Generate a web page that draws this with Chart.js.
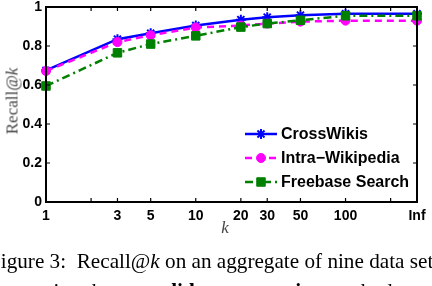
<!DOCTYPE html>
<html>
<head>
<meta charset="utf-8">
<script src="https://cdn.jsdelivr.net/npm/chart.js@4.4.1/dist/chart.umd.min.js"></script>
<style>
  body { margin: 0; background: #fff; width: 432px; height: 286px; overflow: hidden; position: relative; }
  #recallChart { position: absolute; left: 0; top: 0; }
  .axis-title { position: absolute; font-family: 'Liberation Serif', serif; color: #000; white-space: nowrap; line-height: 1; }
  #yTitle { left: 12px; top: 101px; font-size: 17px; transform: translate(-50%, -50%) rotate(-90deg); color: #444; }
  #xTitle { left: 225px; top: 227px; font-size: 17px; transform: translate(-50%, -50%); font-style: italic; color: #444; }
  .caption { position: absolute; font-family: 'Liberation Serif', serif; font-size: 21.2px; line-height: 24px; white-space: nowrap; color: #000; }
</style>
</head>
<body>
<canvas id="recallChart" width="432" height="286"></canvas>
<div class="axis-title" id="yTitle">Recall@<i>k</i></div>
<div class="axis-title" id="xTitle">k</div>
<div class="caption" style="left:-11px; top:249px;">Figure 3:&nbsp; Recall@<i>k</i> on an aggregate of nine data sets</div>
<div class="caption" style="left:-10px; top:279px;">comparing three <b>candidate generation</b> methods.</div>
<script>
// k values (Inf is placed at 300 on the log axis)
const kPositions = [1, 3, 5, 10, 20, 30, 50, 100, 300];
const kLabels = ['1', '3', '5', '10', '20', '30', '50', '100', 'Inf'];
const xTickValues = [1, 2, 3, 5, 10, 20, 30, 50, 100, 200, 300];
const yTickValues = [0, 0.2, 0.4, 0.6, 0.8, 1];

const seriesNames = ['CrossWikis', 'Intra\u2212Wikipedia', 'Freebase Search'];
const crossWikis = [0.675, 0.835, 0.865, 0.905, 0.935, 0.948, 0.958, 0.965, 0.965];
const intraWikipedia = [0.672, 0.82, 0.855, 0.895, 0.905, 0.915, 0.925, 0.93, 0.93];
const freebaseSearch = [0.595, 0.765, 0.81, 0.852, 0.897, 0.915, 0.932, 0.955, 0.955];

const canvas = document.querySelector('#recallChart');
const tickFont = { family: "'Liberation Sans', Arial, sans-serif", weight: 'bold', size: 14 };

const toPoints = (values) => values.map((v, i) => ({ x: kPositions[i], y: v }));

const labelForTick = (value) => {
  const i = kPositions.indexOf(value);
  return i === -1 ? '' : kLabels[i];
}

// MATLAB style box with inward ticks on all four sides
const boxAndTicks = {
  id: 'boxAndTicks',
  afterDatasetsDraw(chart) {
    const { ctx, chartArea: a, scales: { x, y } } = chart;
    ctx.save();
    ctx.strokeStyle = '#000';
    ctx.lineWidth = 1.2;
    ctx.beginPath();
    xTickValues.forEach(v => {
      const px = x.getPixelForValue(v);
      ctx.moveTo(px, a.bottom); ctx.lineTo(px, a.bottom - 4);
      ctx.moveTo(px, a.top); ctx.lineTo(px, a.top + 4);
    });
    yTickValues.forEach(v => {
      const py = y.getPixelForValue(v);
      ctx.moveTo(a.left, py); ctx.lineTo(a.left + 4, py);
      ctx.moveTo(a.right, py); ctx.lineTo(a.right - 4, py);
    });
    ctx.stroke();
    ctx.lineWidth = 2;
    ctx.strokeRect(a.left, a.top, a.width, a.height);
    ctx.restore();
  }
};

// legend in the lower right of the plot
const insideLegend = {
  id: 'insideLegend',
  afterDraw(chart) {
    const { ctx } = chart;
    const rowY = [134, 158, 182];
    chart.data.datasets.forEach((ds, i) => {
      const yy = rowY[i];
      ctx.save();
      ctx.strokeStyle = ds.borderColor;
      ctx.lineWidth = ds.borderWidth;
      ctx.setLineDash(ds.borderDash || []);
      ctx.beginPath();
      ctx.moveTo(245, yy);
      ctx.lineTo(277, yy);
      ctx.stroke();
      ctx.setLineDash([]);
      ctx.fillStyle = ds.pointBackgroundColor;
      ctx.strokeStyle = ds.pointBorderColor;
      ctx.lineWidth = ds.pointBorderWidth;
      Chart.helpers.drawPoint(ctx, { pointStyle: ds.pointStyle, radius: ds.pointRadius, rotation: 0, borderWidth: ds.pointBorderWidth }, 261, yy);
      ctx.fillStyle = '#000';
      ctx.font = "bold 16px 'Liberation Sans', Arial, sans-serif";
      ctx.textBaseline = 'middle';
      ctx.fillText(ds.label, 281, yy + 1);
      ctx.restore();
    });
  }
};

new Chart(canvas, {
  type: 'line',
  data: {
    datasets: [{
      label: seriesNames[0],
      data: toPoints(crossWikis),
      borderColor: '#0000ff',
      borderWidth: 2.5,
      pointStyle: 'star',
      pointRadius: 5,
      pointBorderWidth: 2,
      pointBackgroundColor: '#0000ff',
      pointBorderColor: '#0000ff',
      clip: false,
      order: 2
    }, {
      label: seriesNames[1],
      data: toPoints(intraWikipedia),
      borderColor: '#ff00ff',
      borderWidth: 2.5,
      borderDash: [7, 5],
      pointStyle: 'circle',
      pointRadius: 4.5,
      pointBorderWidth: 1,
      pointBackgroundColor: '#ff00ff',
      pointBorderColor: '#ff00ff',
      clip: false,
      order: 1
    }, {
      label: seriesNames[2],
      data: toPoints(freebaseSearch),
      borderColor: '#008000',
      borderWidth: 2.5,
      borderDash: [8, 4, 2, 4],
      pointStyle: 'rect',
      pointRadius: 6,
      pointBorderWidth: 1,
      pointBackgroundColor: '#008000',
      pointBorderColor: '#008000',
      clip: false,
      order: 0
    }]
  },
  options: {
    responsive: false,
    animation: false,
    devicePixelRatio: 1,
    layout: { padding: { top: 2, right: 15, left: 0, bottom: 0 } },
    plugins: {
      legend: { display: false },
      tooltip: { enabled: false }
    },
    elements: { line: { tension: 0 } },
    scales: {
      x: {
        type: 'logarithmic',
        min: 1,
        max: 300,
        grid: { display: false, drawTicks: false },
        border: { display: false },
        afterBuildTicks: (scale) => { scale.ticks = xTickValues.map(v => ({ value: v })); },
        afterFit: (scale) => { scale.height = 84; scale.paddingLeft = 0; scale.paddingRight = 0; },
        ticks: {
          autoSkip: false,
          maxRotation: 0,
          padding: 6,
          color: '#000',
          font: tickFont,
          callback: (value) => labelForTick(value)
        }
      },
      y: {
        min: 0,
        max: 1,
        grid: { display: false, drawTicks: false },
        border: { display: false },
        afterBuildTicks: (scale) => { scale.ticks = yTickValues.map(v => ({ value: v })); },
        afterFit: (scale) => { scale.width = 46; scale.paddingTop = 0; scale.paddingBottom = 0; },
        ticks: {
          padding: 4,
          color: '#000',
          font: tickFont,
          callback: (value) => String(value)
        }
      }
    }
  },
  plugins: [boxAndTicks, insideLegend]
});
</script>
</body>
</html>
